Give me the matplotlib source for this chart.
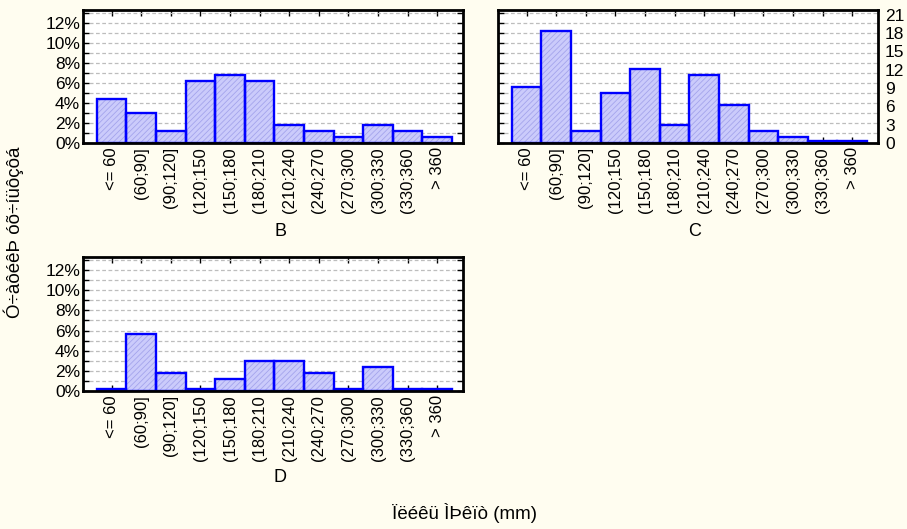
import matplotlib
matplotlib.use('Agg')
import matplotlib.pyplot as plt
from matplotlib.ticker import MultipleLocator, FixedLocator

plt.rcParams['font.family'] = ['Liberation Sans', 'DejaVu Sans']
plt.rcParams['hatch.linewidth'] = 0.6

# bin labels as printed (long ones are cut off in the original)
bins = ['<= 60', '(60;90]', '(90;120]', '(120;150', '(150;180', '(180;210',
        '(210;240', '(240;270', '(270;300', '(300;330', '(330;360', '> 360']

# relative frequency, % per group
pct_B = [4.4, 3.0, 1.2, 6.2, 6.8, 6.2, 1.8, 1.2, 0.6, 1.8, 1.2, 0.6]
pct_C = [5.6, 11.2, 1.2, 5.0, 7.4, 1.8, 6.8, 3.8, 1.2, 0.6, 0.2, 0.2]
pct_D = [0.2, 5.7, 1.8, 0.2, 1.2, 3.0, 3.0, 1.8, 0.2, 2.4, 0.2, 0.2]

count_ticks = [0, 3, 6, 9, 12, 15, 18, 21]
pct_per_count = 0.61

BG = '#fffdf0'
YMAX = 13.3

fig = plt.figure(figsize=(9.07, 5.29), dpi=100, facecolor=BG)


def draw_panel(rect, values, name, name_xy, left_labels=True, right_counts=False):
    ax = fig.add_axes(rect)
    ax.set_facecolor('white')
    x = list(range(len(values)))
    # hatched fill, then the blue outline on top
    ax.bar(x, values, width=1.0, color='#cbcbfb', edgecolor='#a4a4ec',
           linewidth=0, hatch='//////', zorder=2)
    ax.bar(x, values, width=1.0, fill=False, edgecolor='#0000ff',
           linewidth=1.7, zorder=3)
    ax.set_xlim(-0.97, 11.87)
    ax.set_ylim(0, YMAX)

    ax.yaxis.set_major_locator(MultipleLocator(2))
    ax.yaxis.set_minor_locator(MultipleLocator(1))
    ax.grid(axis='y', which='both', color='#bdbdbd', linestyle=(0, (3, 2)),
            linewidth=0.9, zorder=1)
    if left_labels:
        ax.set_yticklabels([f'{int(v)}%' for v in ax.get_yticks()])
    else:
        ax.set_yticklabels([])
    ax.tick_params(axis='y', which='both', direction='in', length=4, width=1,
                   left=True, right=True, labelsize=12.5, pad=2)

    ax.set_xticks(x)
    ax.set_xticklabels(bins, rotation=90, fontsize=12)
    ax.tick_params(axis='x', direction='in', length=4, width=1,
                   top=True, bottom=True, pad=3)

    for sp in ax.spines.values():
        sp.set_linewidth(2.0)
        sp.set_zorder(5)

    if right_counts:
        ax2 = ax.twinx()
        ax2.set_ylim(0, YMAX / pct_per_count)
        ax2.yaxis.set_major_locator(FixedLocator(count_ticks))
        ax2.set_yticklabels([str(c) for c in count_ticks])
        ax2.tick_params(axis='y', length=0, labelsize=12.5, pad=5)
        for sp in ax2.spines.values():
            sp.set_visible(False)

    fig.text(name_xy[0], name_xy[1], name, ha='center', va='center', fontsize=13)
    return ax


draw_panel([0.0915, 0.7297, 0.419, 0.2514], pct_B, 'B', (280 / 907, 1 - 231 / 529))
draw_panel([0.549, 0.7297, 0.419, 0.2514], pct_C, 'C', (695 / 907, 1 - 231 / 529),
           left_labels=False, right_counts=True)
draw_panel([0.0915, 0.2609, 0.419, 0.2533], pct_D, 'D', (280 / 907, 1 - 478 / 529))

fig.text(14 / 907, 1 - 232 / 529, 'Ó÷àôéêÞ óõ÷íüôçôá', rotation=90,
         ha='center', va='center', fontsize=13.5)
fig.text(465 / 907, 1 - 513 / 529, 'Ïëéêü ÌÞêïò (mm)', ha='center', va='center',
         fontsize=13.5)

fig.savefig('out.png', dpi=100, facecolor=BG)
